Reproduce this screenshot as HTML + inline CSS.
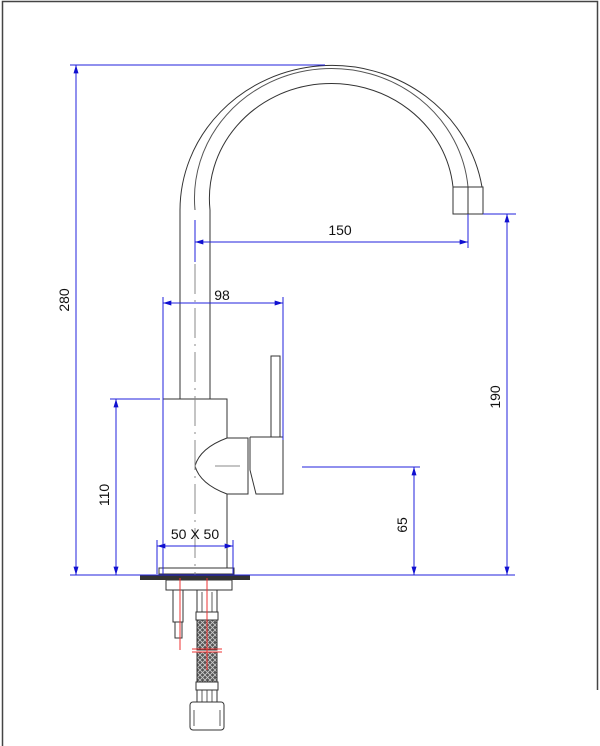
<!DOCTYPE html>
<html><head><style>html,body{margin:0;padding:0;background:#fff}svg{display:block}</style></head>
<body>
<svg width="600" height="746" viewBox="0 0 600 746" xmlns="http://www.w3.org/2000/svg" font-family="Liberation Sans, sans-serif">
<defs>
<marker id="a" viewBox="0 0 10 6" refX="10" refY="3" markerWidth="10" markerHeight="5" orient="auto-start-reverse"><path d="M0,0L10,3L0,6z" fill="#1010d0"/></marker>
<pattern id="mesh" width="5" height="5" patternUnits="userSpaceOnUse"><rect width="5" height="5" fill="#555"/><path d="M0,0L5,5M5,0L0,5" stroke="#ccc" stroke-width="0.8"/></pattern>
</defs>
<!-- frame -->
<path d="M2.5,746V1.5H597.5V690" fill="none" stroke="#444" stroke-width="1.5"/>
<g fill="none" stroke="#333" stroke-width="1">
<!-- spout -->
<path d="M180,399V210A152,145 0 0 1 482,187"/>
<path d="M210,399V210A122,115 0 0 1 453,187"/>
<path d="M195,210A137,130 0 0 1 468,187" stroke="#555"/>
<rect x="453" y="187" width="30" height="27"/>
<line x1="468" y1="187" x2="468" y2="214"/>
<!-- body -->
<path d="M163,572V399H227V438M227,494V568H163"/>
<path d="M227,438H248V494H227"/>
<path d="M227,438Q200,448 195,466Q200,484 227,494"/>
<path d="M250,437H283V494H256L250,470V437"/>
<path d="M271,437V356H280V437"/>
<rect x="159" y="568" width="75" height="6"/>
</g>
<!-- center line dashed -->
<line x1="195" y1="220" x2="195" y2="575" stroke="#888" stroke-width="1" stroke-dasharray="30,6,2,6"/>
<line x1="215" y1="466" x2="240" y2="466" stroke="#888"/>
<!-- base plate -->
<rect x="140" y="575" width="110" height="5" fill="#333"/>
<g fill="#fff" stroke="#333">
<rect x="166" y="580" width="66" height="10"/>
<rect x="173" y="590" width="10" height="32"/>
<rect x="175" y="622" width="7" height="16"/>
<rect x="197" y="590" width="20" height="22"/>
<rect x="196" y="612" width="22" height="8"/>
<rect x="197" y="620" width="20" height="30" fill="url(#mesh)"/>
<rect x="197" y="652" width="20" height="30" fill="url(#mesh)"/>
<rect x="196" y="682" width="22" height="8"/>
<rect x="197" y="690" width="20" height="12"/>
<rect x="190" y="702" width="34" height="28" rx="3"/>
</g>
<g stroke="#333" stroke-width="0.8"><line x1="202" y1="592" x2="202" y2="612"/><line x1="207" y1="592" x2="207" y2="612"/><line x1="212" y1="592" x2="212" y2="612"/><line x1="202" y1="690" x2="202" y2="702"/><line x1="207" y1="690" x2="207" y2="702"/><line x1="212" y1="690" x2="212" y2="702"/><line x1="194" y1="710" x2="194" y2="726"/><line x1="220" y1="710" x2="220" y2="726"/></g>
<g stroke="#e33" stroke-width="1"><line x1="180" y1="578" x2="180" y2="650"/><line x1="207" y1="578" x2="207" y2="670"/><line x1="192" y1="649" x2="222" y2="649"/><line x1="192" y1="652" x2="222" y2="652"/></g>
<!-- dimensions -->
<g stroke="#2222dd" stroke-width="1" fill="none">
<line x1="70" y1="65" x2="325" y2="65"/>
<line x1="70" y1="575" x2="515" y2="575"/>
<line x1="76" y1="65" x2="76" y2="575" marker-start="url(#a)" marker-end="url(#a)"/>
<line x1="110" y1="399" x2="160" y2="399"/>
<line x1="116" y1="399" x2="116" y2="575" marker-start="url(#a)" marker-end="url(#a)"/>
<line x1="163" y1="297" x2="163" y2="574"/>
<line x1="283" y1="297" x2="283" y2="440"/>
<line x1="163" y1="303" x2="283" y2="303" marker-start="url(#a)" marker-end="url(#a)"/>
<line x1="195" y1="220" x2="195" y2="262"/>
<line x1="468" y1="214" x2="468" y2="248"/>
<line x1="195" y1="242" x2="468" y2="242" marker-start="url(#a)" marker-end="url(#a)"/>
<line x1="483" y1="214" x2="516" y2="214"/>
<line x1="507" y1="214" x2="507" y2="575" marker-start="url(#a)" marker-end="url(#a)"/>
<line x1="302" y1="467" x2="420" y2="467"/>
<line x1="414" y1="467" x2="414" y2="575" marker-start="url(#a)" marker-end="url(#a)"/>
<line x1="157" y1="540" x2="157" y2="574"/>
<line x1="233" y1="540" x2="233" y2="574"/>
<line x1="157" y1="546" x2="233" y2="546" marker-start="url(#a)" marker-end="url(#a)"/>
</g>
<g font-size="14" fill="#111">
<text x="340" y="235" text-anchor="middle">150</text>
<text x="222" y="300" text-anchor="middle">98</text>
<text x="195" y="539" text-anchor="middle">50 X 50</text>
<text transform="translate(69,300) rotate(-90)" text-anchor="middle">280</text>
<text transform="translate(109,495) rotate(-90)" text-anchor="middle">110</text>
<text transform="translate(500,397) rotate(-90)" text-anchor="middle">190</text>
<text transform="translate(407,525) rotate(-90)" text-anchor="middle">65</text>
</g>
</svg>
</body></html>
